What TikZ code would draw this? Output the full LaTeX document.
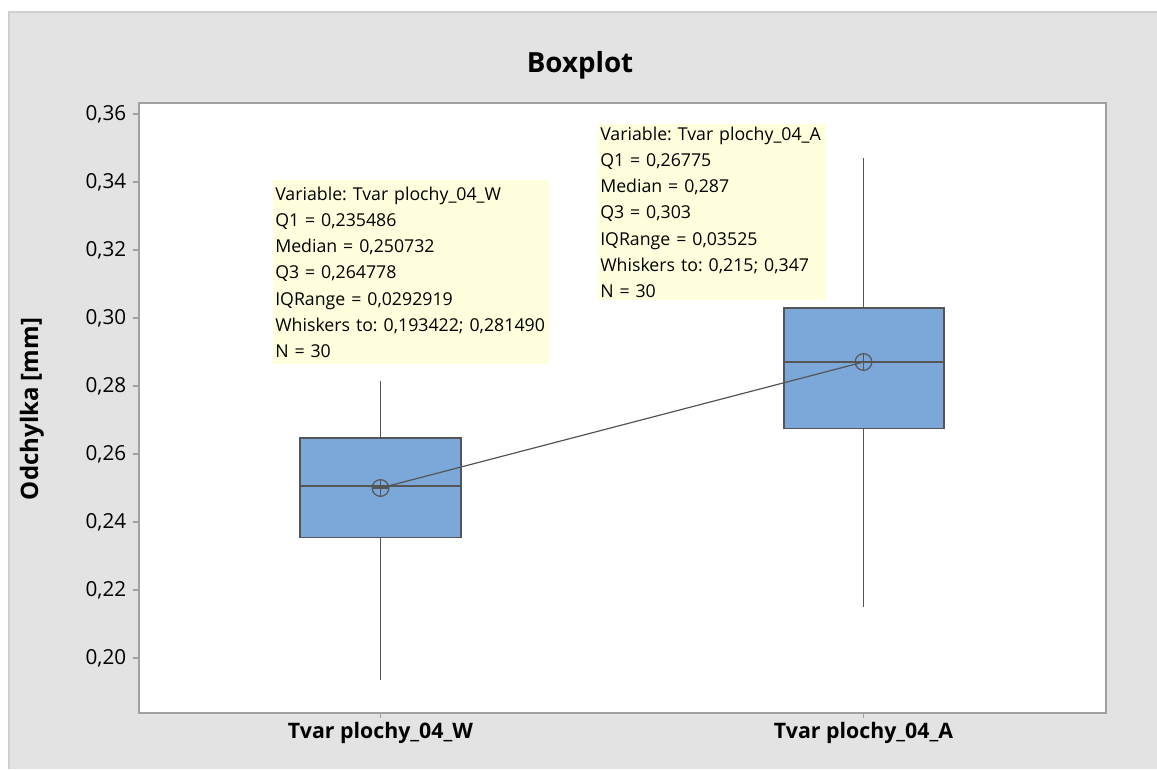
\documentclass[tikz,border=0pt]{standalone}
\usepackage{fontspec}
\setmainfont{Open Sans}
\usetikzlibrary{positioning}
\definecolor{panelgray}{RGB}{227,227,227}
\definecolor{panelline}{RGB}{208,208,208}
\definecolor{framegray}{RGB}{160,160,160}
\definecolor{boxblue}{RGB}{123,167,217}
\definecolor{boxline}{RGB}{85,85,85}
\definecolor{tipyellow}{RGB}{255,255,221}
\frenchspacing

\tikzset{
  ticklabel/.style={anchor=east,inner sep=0.75pt,text=black,font=\fontsize{15.5}{18}\selectfont},
  axislabel/.style={inner sep=0.75pt,font=\bfseries\fontsize{16}{19}\selectfont},
  boxpart/.style={draw=boxline,line width=1.2pt,fill=boxblue},
  whisker/.style={draw=boxline,line width=1.1pt},
  meanmark/.style={circle,draw=boxline,line width=0.9pt,minimum size=12.5pt,inner sep=0pt,
    path picture={\draw[boxline,line width=0.9pt] (path picture bounding box.north) -- (path picture bounding box.south)
      (path picture bounding box.west) -- (path picture bounding box.east);}},
  tipbox/.style={anchor=north west,fill=tipyellow,inner xsep=1.5pt,inner ysep=0pt,align=left,
    font=\fontsize{13.3}{19.6}\selectfont}
}

\begin{document}
\begin{tikzpicture}[x=0.75pt,y=0.75pt,yscale=-1,xscale=1]
\useasboundingbox (0,0) rectangle (1157,769);

%Panel
\fill[panelgray] (9,12) rectangle (1157,769);
\draw[panelline,line width=1pt] (9,769) -- (9,12) -- (1157,12);

%Plot area
\draw[framegray,line width=1.1pt,fill=white] (139,103) rectangle (1106,713);

% Title
\node[inner sep=0.75pt,font=\bfseries\fontsize{20.8}{24}\selectfont] (title) at (580,65) {Boxplot};

%Y ticks
\foreach \k [evaluate=\k as \yy using 658-34*(\k-20)] in {20,22,...,36} {
  \draw[framegray,line width=0.8pt] (133,\yy) -- (139,\yy) node[ticklabel,at start,xshift=-4pt] (yt\k) {0,\k};
}
%X ticks
\draw[framegray,line width=0.8pt] (380.5,713) -- (380.5,718);
\draw[framegray,line width=0.8pt] (863.5,713) -- (863.5,718);

% Axis labels
\node[axislabel] (xlabW) at (380.5,733) {Tvar plochy\_04\_W};
\node[axislabel] (xlabA) at (863.5,733) {Tvar plochy\_04\_A};
\node[axislabel,rotate=90,font=\bfseries\fontsize{18}{21}\selectfont] (ylab) at (32,409) {Odchylka [mm]};

%Boxplot W
\coordinate (loW) at (380.5,680.4);
\coordinate (hiW) at (380.5,380.9);
\draw[whisker] (loW) -- (380.5,537.3);
\draw[whisker] (hiW) -- (380.5,437.8);
\draw[boxpart] (300,437.8) rectangle (461,537.3);
\draw[whisker] (300,486.2) -- (461,486.2);

%Boxplot A
\coordinate (loA) at (863.5,607);
\coordinate (hiA) at (863.5,158.2);
\draw[whisker] (loA) -- (863.5,428.6);
\draw[whisker] (hiA) -- (863.5,307.8);
\draw[boxpart] (784,307.8) rectangle (944,428.6);
\draw[whisker] (784,362.2) -- (944,362.2);

%Means
\node[meanmark] (mW) at (380.5,488) {};
\node[meanmark] (mA) at (863.5,362) {};
\draw[boxline,line width=0.9pt] (mW.center) -- (mA.center);

% Text Node
\node[tipbox,text width=204pt,minimum height=138pt] (tipW) at (273,180) {Variable: Tvar plochy\_04\_W\\Q1 = 0,235486\\Median = 0,250732\\Q3 = 0,264778\\IQRange = 0,0292919\\Whiskers to: 0,193422; 0,281490\\N = 30};
% Text Node
\node[tipbox,text width=168pt,minimum height=132pt] (tipA) at (598,124) {Variable: Tvar plochy\_04\_A\\Q1 = 0,26775\\Median = 0,287\\Q3 = 0,303\\IQRange = 0,03525\\Whiskers to: 0,215; 0,347\\N = 30};

\end{tikzpicture}
\end{document}
